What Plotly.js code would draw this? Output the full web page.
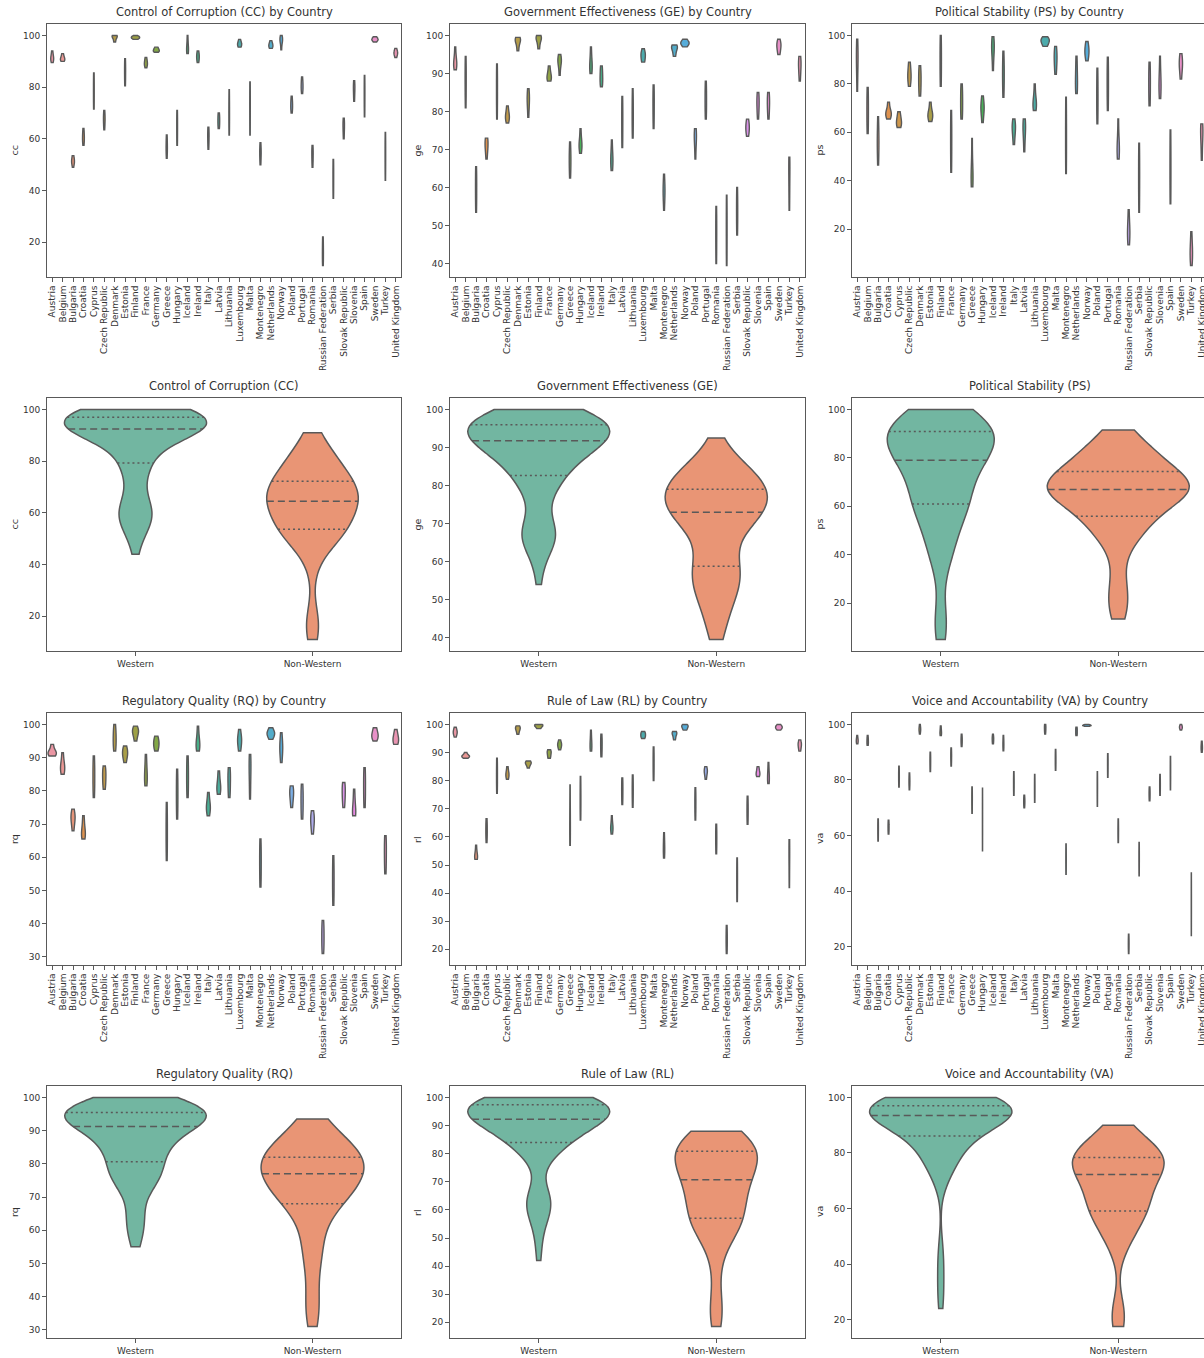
<!DOCTYPE html>
<html><head><meta charset="utf-8">
<script src="https://cdn.plot.ly/plotly-3.0.1.min.js"></script>
<style>html,body{margin:0;padding:0;overflow:hidden;background:#fff}</style>
</head><body><div id="chart"></div>
<script>
const countries = ["Austria","Belgium","Bulgaria","Croatia","Cyprus","Czech Republic","Denmark","Estonia","Finland","France","Germany","Greece","Hungary","Iceland","Ireland","Italy","Latvia","Lithuania","Luxembourg","Malta","Montenegro","Netherlands","Norway","Poland","Portugal","Romania","Russian Federation","Serbia","Slovak Republic","Slovenia","Spain","Sweden","Turkey","United Kingdom"];
const westernCountries = ["Austria","Belgium","Denmark","Finland","France","Germany","Greece","Iceland","Ireland","Italy","Luxembourg","Malta","Netherlands","Norway","Portugal","Spain","Sweden","Turkey","United Kingdom"];
const groups = ["Western","Non-Western"];

// yearly percentile ranks per country (same order as countries)
const cc = [
 [89.5,90.5,91,91.5,92.5,94],[90,90.5,91,91,92,93],[49,50.5,51,51.5,52.5,53.5],[57.5,59,60,61,62.5,64],
 [71.5,74,77,80,83,85.5],[63.5,65.5,67,68,69.5,71],[97.5,98.5,99.5,99.5,100,100],[80.5,82.5,85,87,89,91],
 [98.5,99,99,99.5,99.5,100],[87.5,88.5,89,89.5,90.5,91.5],[93.5,94,94,94.5,95,95.5],[52.5,54.5,56,57.5,59.5,61.5],
 [57.5,60,63,66,68.5,71],[93,94,94.5,95.5,97.5,100],[89.5,90.5,91.5,92,93,94],[56,58,60,61.5,63,64.5],
 [64,65,66.5,67.5,69,70],[61.5,65,68,71.5,75,79],[95.5,96,96.5,97,97.5,98.5],[61.5,66,70.5,74.5,78,82],
 [50,52,54,55,56.5,58.5],[95,95.5,96,96.5,97,98],[94.5,97,98,98.5,99,100],[70,71.5,72.5,73.5,75,76.5],
 [77.5,79,80,81,82.5,84],[49,51,53,54.5,56,57.5],[11,13,15,17,19.5,22],[37,40,43.5,46.5,49.5,52],
 [60,62,64,65.5,66.5,68],[74.5,76.5,78.5,80,81,82.5],[68.5,72,75.5,78.5,82,84.5],[97.5,98,98.5,98.5,99,99.5],
 [44,48,52,55.5,59,62.5],[91.5,92.5,93,93.5,94,95]
];
const ge = [
 [91,92,92.5,93,94.5,97],[81,84,87,89.5,92,94.5],[53.5,56,58.5,61,63.5,65.5],[67.5,69.5,70.5,71.5,72.5,73],
 [78,81,84,87,90,92.5],[77,78,78.5,79,80,81.5],[96,97.5,98.5,99,99,99.5],[78.5,81,82.5,83.5,84.5,86],
 [96.5,98,99,99.5,99.5,100],[88,88.5,89,89.5,90.5,92],[89.5,92,93,93.5,94,95],[62.5,64.5,66.5,68,69.5,72],
 [69,70.5,71,71.5,73,75.5],[90,91,92,92.5,94.5,97],[86.5,87.5,88.5,89.5,91,92],[64.5,66,67,68,69.5,72.5],
 [70.5,73,76,79,81.5,84],[73,75.5,78,80.5,83,86],[93,93.5,94.5,95,95.5,96.5],[75.5,78,80.5,83,85,87],
 [54,57,58.5,59.5,61,63.5],[94.5,95.5,96.5,97,97,97.5],[97,97.5,98,98,98.5,99],[67.5,70.5,72.5,73.5,74.5,75.5],
 [78,80,82,84,86,88],[40,43,46.5,49.5,52.5,55],[39.5,43,47,51,54.5,58],[47.5,50,52.5,55,57.5,60],
 [73.5,74.5,75.5,76,77,78],[78,80,81.5,82.5,84,85],[78,80,81.5,82.5,84,85],[95,96,97,97.5,98,99],
 [54,58,62,65,67,68],[88,90,91.5,92.5,93.5,94.5]
];
const ps = [
 [77,84,89,91.5,94,98.5],[59.5,63,67,71,75,78.5],[46.5,51,55,57.5,61,66.5],[65.5,67,67.5,68,69.5,72.5],
 [62,63,64,65,66.5,68.5],[79,81.5,83,84,86.5,89],[75,77.5,80.5,82.5,85,87.5],[64.5,66,67,67.5,69,72.5],
 [79,83,87.5,92,96,100],[43.5,48.5,54,59,64,69],[65.5,68,71,74,77,80],[37.5,39.5,41,43,48,57.5],
 [64,67.5,69.5,70.5,72,75],[85.5,91,94,95.5,97,99.5],[74.5,79,82.5,85.5,89,93.5],[55,58.5,61,62,63.5,65.5],
 [52,57,60.5,62,64,65.5],[69,70.5,71.5,72.5,75,80],[95.5,96.5,97.5,98,98.5,99.5],[84,87,89.5,91.5,93,95.5],
 [43,49,55,61.5,68,74.5],[76,78.5,80.5,83.5,87.5,91.5],[89.5,91.5,93,94,95.5,97.5],[63.5,68,72.5,77,82,86.5],
 [69,73.5,78,82.5,87,91],[49,51,53,54.5,58,65.5],[13.5,16,18.5,20,23,28],[27,33,39,44.5,50,55.5],
 [71,74.5,78.5,82,85.5,89],[74,77,79.5,81,85,91.5],[30.5,36.5,42.5,48.5,55,61],[82,85.5,87.5,88.5,90.5,92.5],
 [5,7.5,10,11.5,14.5,19],[48.5,54,58,60.5,62,63.5]
];
const rq = [
 [90.5,91,91.5,91.5,92.5,94],[85,86,87,87.5,89,91.5],[68,70,71.5,72,73,74.5],[65.5,66.5,67,68,70,72.5],
 [78,80.5,83,85.5,88,90.5],[80.5,82,83.5,85,86,87.5],[92,93.5,95,96.5,98,100],[88.5,90,91,91.5,92.5,93.5],
 [95,96.5,97.5,98,98.5,99.5],[81.5,83,84,85.5,88,91],[92,93,94,94.5,95.5,96.5],[59,62.5,66,69.5,73,76.5],
 [71.5,74.5,77.5,80.5,83.5,86.5],[78,80.5,83,85.5,88,90.5],[92,93,94,94.5,96.5,99.5],[72.5,74,75,75.5,77,79.5],
 [79,80,81,81.5,83.5,86],[78,80,82,84,85.5,87],[92,93.5,95,95.5,96.5,98.5],[77.5,81,85,87.5,89,91],
 [51,54,57,60,62.5,65.5],[95.5,96.5,97,97.5,98,99],[88.5,91,92.5,93.5,95,97.5],[75,77,78.5,79.5,80.5,81.5],
 [71.5,73.5,76,78,80,82],[67,69,70.5,71.5,72.5,74],[31,33,35,37,39,41],[45.5,48.5,51.5,54.5,57.5,60.5],
 [75,77,78.5,80,81.5,82.5],[72.5,73,73.5,75,77.5,80.5],[75,77.5,80,82.5,85,87],[95,96,96.5,97,98,99],
 [55,57.5,60,62.5,64.5,66.5],[94,94.5,95.5,96,97,98.5]
];
const rl = [
 [95.5,96.5,97,97.5,98,99],[88,88.5,88.5,89,89,90],[52,52.5,53,53.5,55,57],[58,60,61.5,63,65,66.5],
 [75.5,78,80.5,83,85.5,88],[80.5,81.5,82,82.5,83.5,85],[96.5,97.5,98.5,98.5,99,99.5],[84.5,85.5,86,86.5,86.5,87],
 [98.5,99,99.5,99.5,100,100],[88,88.5,89.5,90,90.5,91],[91,92,92.5,93,93.5,94.5],[57,60.5,63.5,66,71,78.5],
 [66,69,72,75,78,81.5],[90.5,91.5,92.5,93.5,95.5,98],[88.5,90,92,93.5,95,96.5],[61,62.5,63,63.5,65,67.5],
 [71.5,73.5,75.5,77.5,79.5,81],[70.5,73,75.5,77.5,80,82],[95,95.5,96,96.5,97,97.5],[80,82.5,85,87.5,90,92],
 [52.5,54,55.5,57,59,61.5],[94.5,95.5,96.5,97,97,97.5],[98,98.5,99,99.5,99.5,100],[66,68.5,71,73,75.5,77.5],
 [80.5,82,83,83.5,84,85],[54,56,58.5,60.5,62.5,64.5],[18.5,20.5,22.5,24.5,26.5,28.5],[37,40,43.5,46.5,49.5,52.5],
 [64.5,66.5,68.5,70.5,72.5,74.5],[81.5,82,82.5,83,84,85],[79,80,81,82,84,86.5],[98,98.5,99,99,99.5,100],
 [42,47,51.5,55,57.5,59],[90.5,91.5,92.5,93,93.5,94.5]
];
const va = [
 [93,93.5,94,94.5,95,96],[92.5,93,93.5,94.5,95,96],[58,59.5,61.5,63,64.5,66],[60.5,61.5,62.5,63.5,64.5,65.5],
 [77.5,79,80.5,82,83.5,85],[76.5,78,79,80,81,82.5],[96.5,97.5,98,98.5,99,100],[83,84.5,86,87.5,88.5,90],
 [96,96.5,97,97.5,98.5,99.5],[85,86.5,88,89,90,91.5],[92,93,94,94.5,95.5,96.5],[68,70,72,74,75.5,77.5],
 [54.5,59,63.5,68,72.5,77],[93,93.5,94.5,95,95.5,96.5],[90.5,91.5,92.5,93.5,94.5,96],[74.5,76,78,79.5,81,83],
 [70,71,72,72.5,73.5,74.5],[72,74,76,78,80,82],[96.5,97.5,98,99,99.5,100],[83.5,85,86.5,88,89.5,91],
 [46,48,50.5,52.5,55,57],[96,96.5,97,98,98.5,99],[99.3,99.5,99.6,99.7,99.8,100],[70.5,73,76,78.5,80.5,83],
 [81,82.5,84.5,86.5,88,89.5],[57.5,59,61,62.5,64,66],[17.5,19,20.5,21.5,23,24.5],[45.5,48,50.5,53,55,57.5],
 [72.5,73.5,74.5,75.5,76.5,77.5],[74.5,76,77.5,79,80.5,82],[76.5,79,81.5,84,86,88.5],[98,98.5,99,99,99.5,100],
 [24,28.5,33,37.5,42,46.5],[90,91,91.5,92,93,94]
];

const indicators = [
 {data: cc, key: "cc", name: "Control of Corruption (CC)", dtick: 20},
 {data: ge, key: "ge", name: "Government Effectiveness (GE)", dtick: 10},
 {data: ps, key: "ps", name: "Political Stability (PS)", dtick: 20},
 {data: rq, key: "rq", name: "Regulatory Quality (RQ)", dtick: 10},
 {data: rl, key: "rl", name: "Rule of Law (RL)", dtick: 10},
 {data: va, key: "va", name: "Voice and Accountability (VA)", dtick: 20}
];

// ---------- styling helpers ----------
const W = 1210, H = 1358;
const colPx = [[47,401],[450,805],[852,1207]];
const rowPx = [[24,277],[398,651],[713,965],[1086,1338]];
const FONT = "DejaVu Sans";
const TXT = "#333333";
const EDGE = "#595959";

function rgbToHls(r,g,b){const mx=Math.max(r,g,b),mn=Math.min(r,g,b);const l=(mx+mn)/2;if(mx===mn)return[0,l,0];const d=mx-mn;const s=l<=0.5?d/(mx+mn):d/(2-mx-mn);let h;if(mx===r)h=(g-b)/d;else if(mx===g)h=2+(b-r)/d;else h=4+(r-g)/d;h=((h/6)%1+1)%1;return[h,l,s];}
function hlsToRgb(h,l,s){if(s===0)return[l,l,l];const m2=l<=0.5?l*(1+s):l+s-l*s;const m1=2*l-m2;const f=hh=>{hh=((hh%1)+1)%1;if(hh<1/6)return m1+(m2-m1)*hh*6;if(hh<0.5)return m2;if(hh<2/3)return m1+(m2-m1)*(2/3-hh)*6;return m1;};return[f(h+1/3),f(h),f(h-1/3)];}
function toHex(rgb){return "#"+rgb.map(c=>Math.round(Math.min(1,Math.max(0,c))*255).toString(16).padStart(2,"0")).join("");}
function desat(rgb,p){const[h,l,s]=rgbToHls(...rgb);return hlsToRgb(h,l,s*p);}
function hexToRgb(h){return[1,3,5].map(i=>parseInt(h.substr(i,2),16)/255);}

// HUSL -> RGB (as used by seaborn's husl_palette)
const M=[[3.240969941904521,-1.537383177570093,-0.498610760293],[-0.96924363628087,1.87596750150772,0.041555057407175],[0.055630079696993,-0.20397695888897,1.056971514242878]];
const refU=0.19783000664283,refV=0.46831999493879,kappa=903.2962962,eps=0.0088564516;
function maxChroma(L,Hd){const hr=Hd/360*2*Math.PI;const sub1=Math.pow(L+16,3)/1560896;const sub2=sub1>eps?sub1:L/kappa;let mn=Infinity;for(let c=0;c<3;c++){const[m1,m2,m3]=M[c];for(let t=0;t<2;t++){const top1=(284517*m1-94839*m3)*sub2;const top2=(838422*m3+769860*m2+731718*m1)*L*sub2-769860*t*L;const bot=(632260*m3-126452*m2)*sub2+126452*t;const slope=top1/bot,inter=top2/bot;const len=inter/(Math.sin(hr)-slope*Math.cos(hr));if(len>=0)mn=Math.min(mn,len);}}return mn;}
function huslToRgb(Hd,S,L){const C=maxChroma(L,Hd)/100*S;const hr=Hd/360*2*Math.PI;const U=Math.cos(hr)*C,V=Math.sin(hr)*C;const Y=L>8?Math.pow((L+16)/116,3):L/kappa;const vu=U/(13*L)+refU,vv=V/(13*L)+refV;const X=0-(9*Y*vu)/((vu-4)*vv-vu*vv);const Z=(9*Y-15*vv*Y-vv*X)/(3*vv);return M.map(r=>r[0]*X+r[1]*Y+r[2]*Z).map(c=>c<=0.0031308?12.92*c:1.055*Math.pow(c,1/2.4)-0.055);}
function huslPalette(n){const out=[];for(let i=0;i<n;i++){const h=((i/n+0.01)%1)*359;out.push(toHex(desat(huslToRgb(h,0.9*99,0.7*99),0.75)));}return out;}
const countryColors = huslPalette(countries.length);
const groupColors = ["#66c2a5","#fc8d62"].map(c=>toHex(desat(hexToRgb(c),0.75)));

// ---------- KDE (same kernel as Plotly violin) ----------
function scottBw(v){const n=v.length;const m=v.reduce((a,b)=>a+b,0)/n;const sd=Math.sqrt(v.reduce((a,b)=>a+(b-m)*(b-m),0)/(n-1));return sd*Math.pow(n,-0.2);}
function kdeFn(v,bw){const c=1/(v.length*bw*Math.sqrt(2*Math.PI));return t=>{let s=0;for(const x of v){const u=(t-x)/bw;s+=Math.exp(-0.5*u*u);}return c*s;};}
function maxKde(v,bw){const lo=Math.min(...v),hi=Math.max(...v);const dist=hi-lo;const n=Math.ceil(dist/(bw/3));const step=dist/n;const f=kdeFn(v,bw);let mx=0;for(let t=lo;t<hi+step/2;t+=step)mx=Math.max(mx,f(t));return mx;}
function pct(v,p){const a=[...v].sort((x,y)=>x-y);const h=(a.length-1)*p;const lo=Math.floor(h);const hi=Math.min(a.length-1,lo+1);return a[lo]+(a[hi]-a[lo])*(h-lo);}

const traces = [];
const layout = {
  width: W, height: H, margin: {l:0,r:0,t:0,b:0},
  paper_bgcolor: "#fff", plot_bgcolor: "#fff", showlegend: false,
  font: {family: FONT, color: TXT, size: 9},
  annotations: []
};

function axisBase(){
  return {showline:true, mirror:true, linecolor:EDGE, linewidth:1, ticks:"outside", ticklen:4, tickwidth:1,
          tickcolor:EDGE, showgrid:false, zeroline:false, fixedrange:true,
          tickfont:{family:FONT, size:9, color:TXT}};
}

function addViolins(sub, seriesList, colors, labels, withQuartiles){
  const xa = "x"+(sub>1?sub:""), ya = "y"+(sub>1?sub:"");
  const stats = seriesList.map(v=>{const bw=scottBw(v);return {bw, mk:maxKde(v,bw)};});
  const gmax = Math.max(...stats.map(s=>s.mk));
  seriesList.forEach((v,i)=>{
    const w = 0.8*stats[i].mk/gmax;
    traces.push({type:"violin", xaxis:xa, yaxis:ya, x:v.map(()=>i), y:v, name:labels[i],
      width:w, bandwidth:stats[i].bw, spanmode:"hard", points:false,
      box:{visible:false}, meanline:{visible:false},
      fillcolor:colors[i], line:{color:EDGE, width:withQuartiles?1.5:1.4},
      hoverinfo:"skip", showlegend:false});
    if(withQuartiles){
      const f = kdeFn(v,stats[i].bw);
      [[0.25,"2px,3px"],[0.5,"7px,4px"],[0.75,"2px,3px"]].forEach(([p,dash])=>{
        const q = pct(v,p);
        const hw = (w/2)*f(q)/stats[i].mk;
        traces.push({type:"scatter", mode:"lines", xaxis:xa, yaxis:ya, x:[i-hw,i+hw], y:[q,q],
          line:{color:EDGE, width:1.5, dash:dash}, hoverinfo:"skip", showlegend:false});
      });
    }
  });
}

indicators.forEach((ind, k)=>{
  const col = k%3, block = Math.floor(k/3);
  const all = ind.data.flat();
  const mn = Math.min(...all), mx = Math.max(...all), pad = 0.05*(mx-mn);
  const yr = [mn-pad, mx+pad];
  const westVals = [].concat(...countries.map((c,i)=>westernCountries.includes(c)?ind.data[i]:[]));
  const nonWestVals = [].concat(...countries.map((c,i)=>westernCountries.includes(c)?[]:ind.data[i]));
  [0,1].forEach(kind=>{
    const row = block*2 + kind;
    const sub = row*3 + col + 1;
    const sx = sub>1?sub:"";
    const xd = [colPx[col][0]/W, colPx[col][1]/W];
    const yd = [1-rowPx[row][1]/H, 1-rowPx[row][0]/H];
    const xaxis = Object.assign(axisBase(), {domain:xd, anchor:"y"+sx});
    const yaxis = Object.assign(axisBase(), {domain:yd, anchor:"x"+sx, range:yr, dtick:ind.dtick, tick0:0});
    if(kind===0){
      Object.assign(xaxis, {range:[-0.5, countries.length-0.5], tickmode:"array",
        tickvals:countries.map((c,i)=>i), ticktext:countries, tickangle:-90});
      addViolins(sub, ind.data, countryColors, countries, false);
    } else {
      Object.assign(xaxis, {range:[-0.5, 1.5], tickmode:"array", tickvals:[0,1], ticktext:groups});
      addViolins(sub, [westVals, nonWestVals], groupColors, groups, true);
    }
    layout["xaxis"+sx] = xaxis;
    layout["yaxis"+sx] = yaxis;
    layout.annotations.push({xref:"paper", yref:"paper", x:(colPx[col][0]+colPx[col][1])/2/W,
      y:1-(rowPx[row][0]-3)/H, xanchor:"center", yanchor:"bottom", showarrow:false,
      text: ind.name + (kind===0?" by Country":""), font:{family:FONT, size:11.5, color:TXT}});
    layout.annotations.push({xref:"paper", yref:"paper", x:(colPx[col][0]-33)/W,
      y:1-(rowPx[row][0]+rowPx[row][1])/2/H, xanchor:"center", yanchor:"middle", showarrow:false,
      textangle:-90, text: ind.key, font:{family:FONT, size:9.5, color:TXT}});
  });
});

Plotly.newPlot("chart", traces, layout, {staticPlot:true, displayModeBar:false});
</script>
</body></html>
